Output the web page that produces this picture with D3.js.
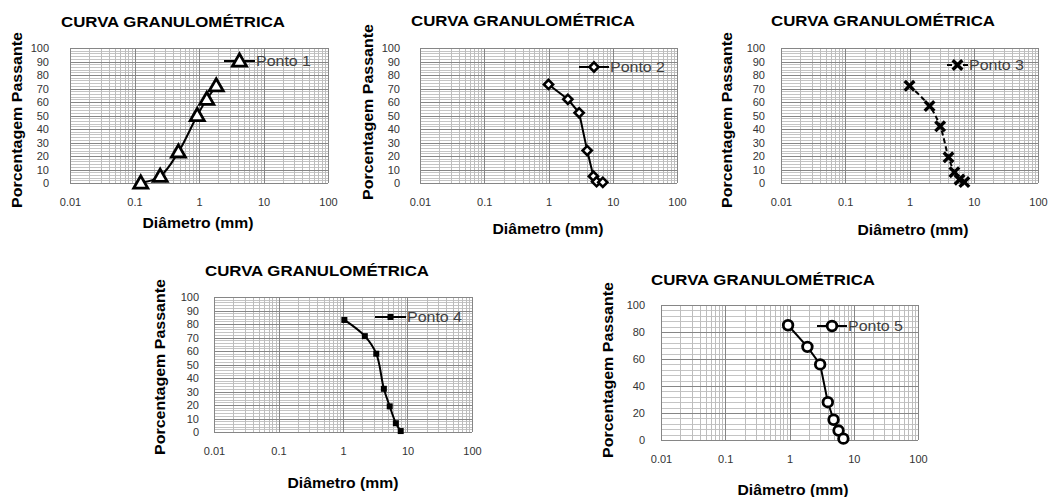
<!DOCTYPE html>
<html>
<head>
<meta charset="utf-8">
<script src="https://cdn.jsdelivr.net/npm/d3@7"></script>
<style>
  body { margin: 0; background: #fff; }
  svg { display: block; }
</style>
</head>
<body>
<div id="chart"></div>
<script>
// values
const xTickVals = [0.01, 0.1, 1, 10, 100];
const xTickLabels = ["0.01", "0.1", "1", "10", "100"];

const diam1 = [0.125, 0.25, 0.48, 0.94, 1.32, 1.85];
const pass1 = [0, 5, 23, 50, 62, 72];

const diam2 = [1.0, 2.0, 3.0, 4.0, 5.0, 5.6, 7.0];
const pass2 = [73, 62, 52, 24, 5, 1, 0.5];

const diam3 = [1.0, 2.05, 3.0, 4.05, 5.0, 6.0, 7.15];
const pass3 = [72, 57, 42, 19, 8, 2.5, 0.7];

const diam4 = [1.05, 2.18, 3.28, 4.3, 5.3, 6.6, 7.85];
const pass4 = [83, 71, 58, 32, 19, 6.5, 0.7];

const diam5 = [0.95, 1.9, 3.0, 3.95, 4.85, 5.8, 6.9];
const pass5 = [85, 69, 56, 28, 15, 7, 1];

const seriesNames = ["Ponto 1", "Ponto 2", "Ponto 3", "Ponto 4", "Ponto 5"];
const chartTitle = "CURVA GRANULOMÉTRICA";
const xTitle = "Diâmetro (mm)";
const yTitle = "Porcentagem Passante";

const W = 1052, H = 497;
const font = "'Liberation Sans', Arial, sans-serif";

const svg = d3.select("#chart").append("svg")
  .attr("width", W).attr("height", H)
  .style("background", "#fff");

// layout of each small chart
const panels = [
  { d: diam1, p: pass1, name: seriesNames[0], mk: "tri", curve: d3.curveCatmullRom, dash: null,
    x0: 70, x1: 328, y0: 48, y1: 183, yStep: 10, yMinor: 2, yPad: 21,
    tx: 173, ty: 22, xtx: 198, xty: 223, ytx: 17, yty: 120,
    lx: 224, ly: 61, lw: 31 },
  { d: diam2, p: pass2, name: seriesNames[1], mk: "diamond", curve: d3.curveLinear, dash: null,
    x0: 420, x1: 677, y0: 48, y1: 183, yStep: 10, yMinor: 2, yPad: 20,
    tx: 523, ty: 21, xtx: 548, xty: 229, ytx: 368, yty: 112,
    lx: 579, ly: 67, lw: 30 },
  { d: diam3, p: pass3, name: seriesNames[2], mk: "x", curve: d3.curveCatmullRom, dash: "5,3",
    x0: 781, x1: 1038, y0: 48, y1: 183, yStep: 10, yMinor: 2, yPad: 16,
    tx: 883, ty: 21, xtx: 913, xty: 230, ytx: 727, yty: 120,
    lx: 947, ly: 65, lw: 21 },
  { d: diam4, p: pass4, name: seriesNames[3], mk: "square", curve: d3.curveCatmullRom, dash: null,
    x0: 214, x1: 472, y0: 297, y1: 432, yStep: 10, yMinor: 2, yPad: 15,
    tx: 317, ty: 271, xtx: 343, xty: 483, ytx: 160, yty: 367,
    lx: 375, ly: 317, lw: 31 },
  { d: diam5, p: pass5, name: seriesNames[4], mk: "circle", curve: d3.curveLinear, dash: null,
    x0: 661, x1: 918, y0: 305, y1: 440, yStep: 20, yMinor: 4, yPad: 16,
    tx: 763, ty: 280, xtx: 793, xty: 490, ytx: 608, yty: 370,
    lx: 817, ly: 326, lw: 30 }
];

function drawMarker(g, type, x, y) {
  if (type === "tri") {
    g.append("path")
      .attr("d", d3.symbol(d3.symbolTriangle, 85)())
      .attr("transform", `translate(${x},${y + 1})`)
      .attr("fill", "#fff").attr("stroke", "#000").attr("stroke-width", 2.8);
  } else if (type === "diamond") {
    g.append("path")
      .attr("d", d3.symbol(d3.symbolSquare, 42)())
      .attr("transform", `translate(${x},${y}) rotate(45)`)
      .attr("fill", "#fff").attr("stroke", "#000").attr("stroke-width", 2.6);
  } else if (type === "x") {
    const r = 4.8;
    g.append("path")
      .attr("d", `M${x - r},${y - r}L${x + r},${y + r}M${x - r},${y + r}L${x + r},${y - r}`)
      .attr("stroke", "#000").attr("stroke-width", 3.4).attr("fill", "none");
  } else if (type === "square") {
    g.append("rect")
      .attr("x", x - 3).attr("y", y - 3).attr("width", 6).attr("height", 6)
      .attr("fill", "#000");
  } else if (type === "circle") {
    g.append("circle")
      .attr("cx", x).attr("cy", y).attr("r", 4.8)
      .attr("fill", "#fff").attr("stroke", "#000").attr("stroke-width", 2.8);
  }
}

panels.forEach(cfg => {
  const g = svg.append("g");
  const x = d3.scaleLog().domain([0.01, 100]).range([cfg.x0, cfg.x1]);
  const y = d3.scaleLinear().domain([0, 100]).range([cfg.y1, cfg.y0]);

  // vertical grid: minor 2..9, major at decades
  const vMinor = [], vMajor = [];
  for (let e = -2; e < 2; e++) {
    for (let k = 2; k <= 9; k++) vMinor.push(k * Math.pow(10, e));
    vMajor.push(Math.pow(10, e));
  }
  vMajor.push(100);

  const hMinor = d3.range(0, 100.001, cfg.yMinor).filter(v => Math.abs(v % cfg.yStep) > 1e-6);
  const hMajor = d3.range(0, 100.001, cfg.yStep);

  g.selectAll(".hmin").data(hMinor).join("line")
    .attr("x1", cfg.x0).attr("x2", cfg.x1)
    .attr("y1", d => Math.round(y(d)) + 0.5).attr("y2", d => Math.round(y(d)) + 0.5)
    .attr("stroke", "#c4c4c4").attr("stroke-width", 1);
  g.selectAll(".vmin").data(vMinor).join("line")
    .attr("x1", d => Math.round(x(d)) + 0.5).attr("x2", d => Math.round(x(d)) + 0.5)
    .attr("y1", cfg.y0).attr("y2", cfg.y1)
    .attr("stroke", "#bdbdbd").attr("stroke-width", 1);
  g.selectAll(".hmaj").data(hMajor).join("line")
    .attr("x1", cfg.x0).attr("x2", cfg.x1)
    .attr("y1", d => Math.round(y(d)) + 0.5).attr("y2", d => Math.round(y(d)) + 0.5)
    .attr("stroke", "#868686").attr("stroke-width", 1);
  g.selectAll(".vmaj").data(vMajor).join("line")
    .attr("x1", d => Math.round(x(d)) + 0.5).attr("x2", d => Math.round(x(d)) + 0.5)
    .attr("y1", cfg.y0).attr("y2", cfg.y1)
    .attr("stroke", "#868686").attr("stroke-width", 1);

  // axes (labels only)
  const xAxis = d3.axisBottom(x).tickValues(xTickVals)
    .tickFormat((d, i) => xTickLabels[i]).tickSize(0).tickPadding(15);
  const gx = g.append("g").attr("transform", `translate(0,${cfg.y1})`).call(xAxis);
  const yAxis = d3.axisLeft(y).tickValues(hMajor).tickFormat(d3.format("d"))
    .tickSize(0).tickPadding(cfg.yPad);
  const gy = g.append("g").attr("transform", `translate(${cfg.x0},0)`).call(yAxis);
  [gx, gy].forEach(a => {
    a.select(".domain").remove();
    a.selectAll("text").attr("font-family", font).attr("font-size", 11).attr("fill", "#333");
  });

  // series
  const pts = cfg.d.map((v, i) => [x(v), y(cfg.p[i])]);
  g.append("path")
    .attr("d", d3.line().curve(cfg.curve)(pts))
    .attr("fill", "none").attr("stroke", "#000").attr("stroke-width", 2)
    .attr("stroke-dasharray", cfg.dash);
  pts.forEach(p => drawMarker(g, cfg.mk, p[0], p[1]));

  // legend
  g.append("line")
    .attr("x1", cfg.lx).attr("x2", cfg.lx + cfg.lw)
    .attr("y1", cfg.ly).attr("y2", cfg.ly)
    .attr("stroke", "#000").attr("stroke-width", 2)
    .attr("stroke-dasharray", cfg.dash ? "5,11,5" : null);
  drawMarker(g, cfg.mk, cfg.lx + cfg.lw / 2, cfg.ly);
  g.append("text")
    .attr("x", cfg.lx + cfg.lw + 1).attr("y", cfg.ly)
    .attr("dominant-baseline", "central")
    .attr("font-family", font).attr("font-size", 14).attr("fill", "#404040")
    .attr("textLength", 55).attr("lengthAdjust", "spacingAndGlyphs")
    .text(cfg.name);

  // titles
  g.append("text")
    .attr("x", cfg.tx).attr("y", cfg.ty)
    .attr("text-anchor", "middle").attr("dominant-baseline", "central")
    .attr("font-family", font).attr("font-weight", "bold").attr("font-size", 14.5)
    .attr("textLength", 224).attr("lengthAdjust", "spacingAndGlyphs")
    .text(chartTitle);
  g.append("text")
    .attr("x", cfg.xtx).attr("y", cfg.xty)
    .attr("text-anchor", "middle").attr("dominant-baseline", "central")
    .attr("font-family", font).attr("font-weight", "bold").attr("font-size", 14)
    .attr("textLength", 111).attr("lengthAdjust", "spacingAndGlyphs")
    .text(xTitle);
  g.append("text")
    .attr("transform", `translate(${cfg.ytx},${cfg.yty}) rotate(-90)`)
    .attr("text-anchor", "middle").attr("dominant-baseline", "central")
    .attr("font-family", font).attr("font-weight", "bold").attr("font-size", 14.5)
    .attr("textLength", 176).attr("lengthAdjust", "spacingAndGlyphs")
    .text(yTitle);
});
</script>
</body>
</html>
